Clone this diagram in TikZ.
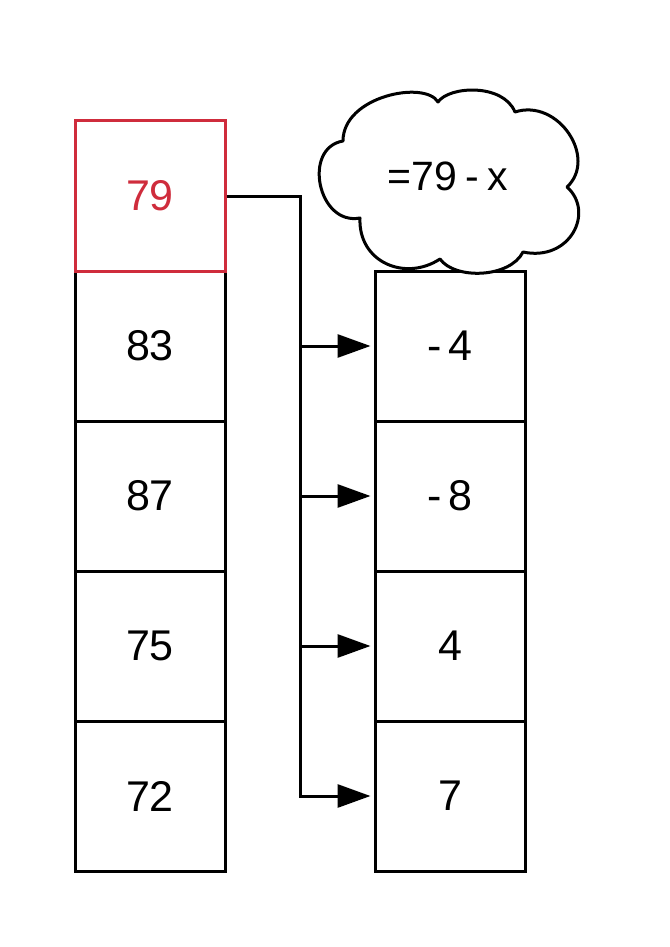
\documentclass[tikz,border=0pt]{standalone}
\usepackage{fontspec}
\setmainfont{Liberation Sans}
\usetikzlibrary{arrows.meta}
\definecolor{redbox}{RGB}{207,44,60}
\begin{document}
\begin{tikzpicture}[x=1pt,y=-1pt,
  cell/.style={draw=black,line width=3pt,minimum width=150pt,minimum height=150pt,inner sep=0pt,
    font=\fontsize{43}{43}\selectfont,fill=white},
  redcell/.style={cell,draw=redbox,text=redbox},
  conn/.style={line width=3pt,line join=miter},
  arr/.style={conn,-{Triangle[length=33pt,width=23pt]}}]
\useasboundingbox (0,0) rectangle (669,947);
% left column
\node[cell] (l2) at (150,346) {83};
\node[cell] (l3) at (150,496) {87};
\node[cell] (l4) at (150,646) {75};
\node[cell] (l5) at (150,796) {72};
\node[redcell] (l1) at (150,196) {79};
% right column
\node[cell] (r1) at (450,346) {-\hspace{0.15em}4};
\node[cell] (r2) at (450,496) {-\hspace{0.15em}8};
\node[cell] (r3) at (450,646) {4};
\node[cell] (r4) at (450,796) {7};
% cloud
\draw[line width=3pt,fill=white,line join=round]
  (343,141) .. controls (343,96) and (425,80) .. (438,102)
  .. controls (449,86) and (503,83) .. (515,112)
  .. controls (558,98) and (598,158) .. (567,187)
  .. controls (595,212) and (570,262) .. (523,252)
  .. controls (510,278) and (455,280) .. (440,259)
  .. controls (405,282) and (358,262) .. (360,218)
  .. controls (318,226) and (302,148) .. (343,141) -- cycle;
\node[font=\fontsize{41}{41}\selectfont,inner sep=0pt] (cl) at (448,176) {=79\hspace{0.2em}-\hspace{0.2em}x};
% connectors
\coordinate (j1) at (300,346);
\coordinate (j2) at (300,496);
\coordinate (j3) at (300,646);
\coordinate (j4) at (300,796);
\draw[arr] (l1.east) -| (j4) -- ([xshift=-3pt]r4.west);
\draw[arr] (j1) -- ([xshift=-3pt]r1.west);
\draw[arr] (j2) -- ([xshift=-3pt]r2.west);
\draw[arr] (j3) -- ([xshift=-3pt]r3.west);
\end{tikzpicture}
\end{document}
